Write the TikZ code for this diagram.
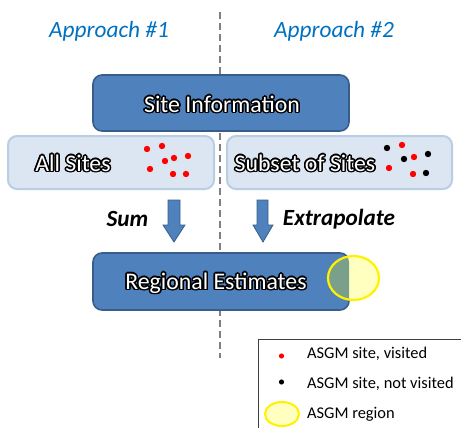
\documentclass[tikz,border=0pt]{standalone}
\usepackage{fontspec}
\setmainfont{Carlito}
\usepackage{contour}
\contourlength{1.5pt}
\definecolor{appblue}{RGB}{0,112,192}
\definecolor{boxblue}{RGB}{79,129,189}
\definecolor{boxedge}{RGB}{56,93,138}
\definecolor{lightfill}{RGB}{220,230,242}
\definecolor{lightedge}{RGB}{185,205,229}
\definecolor{overlapc}{RGB}{122,160,140}
\definecolor{ellfill}{RGB}{255,255,192}
\newcommand\glowtxt[1]{\contour{black}{\textcolor{white}{#1}}}
\begin{document}
\begin{tikzpicture}[x=1pt,y=-1pt,
  darkbox/.style={draw=boxedge,fill=boxblue,line width=1.6pt,rounded corners=9pt,inner sep=0pt},
  lightbox/.style={draw=lightedge,fill=lightfill,line width=2pt,rounded corners=9pt,inner sep=0pt},
  glowlbl/.style={font=\fontsize{23.8}{25}\selectfont,inner sep=0pt},
  apptxt/.style={font=\fontsize{23.3}{25}\selectfont\itshape,text=appblue,inner sep=0pt},
  optxt/.style={font=\fontsize{23.2}{25}\selectfont\bfseries\itshape,inner sep=0pt},
  legtxt/.style={font=\fontsize{16.4}{18}\selectfont,anchor=west,inner sep=0pt},
  reddot/.style={fill=red},
  blackdot/.style={fill=black},
  blockarrow/.style={fill=boxblue,draw=boxedge,line width=0.8pt},
  divider/.style={draw=gray,dashed,dash pattern=on 7pt off 4pt,line width=1.3pt}]
\useasboundingbox (0,0) rectangle (461,428);

% titles
\node[apptxt] (ap1) at (109,31) {Approach \#1};
\node[apptxt] (ap2) at (334,31) {Approach \#2};

% divider
\coordinate (dtop) at (220,12);
\coordinate (dbot) at (220,358);
\draw[divider] (dtop) -- (dbot);

% site information
\node[darkbox,minimum width=256pt,minimum height=56pt] (site) at (221,103) {};
\node[glowlbl] (sitet) at (222,105) {\glowtxt{Site Information}};

% all sites / subset
\node[lightbox,minimum width=206pt,minimum height=53pt] (all) at (111,162.5) {};
\node[glowlbl] (allt) at (73,164) {\glowtxt{All Sites}};
\node[lightbox,minimum width=225pt,minimum height=53pt] (sub) at (339.5,162.5) {};
\node[glowlbl] (subt) at (305,164) {\glowtxt{Subset of Sites}};

% dots in All Sites
\foreach \p in {(147,149),(162,146),(174,158),(188,156),(165,161),(150,169),(173,174),(186,174)}
  \fill[reddot] \p circle (3.2);
% dots in Subset
\foreach \p in {(402,145),(414,157),(389,168),(413,174)}
  \fill[reddot] \p circle (3.2);
\foreach \p in {(387,148),(428,154),(404,159),(426,173)}
  \fill[blackdot] \p circle (3.2);

% block arrows
\draw[blockarrow] (168,200) -- (180,200) -- (180,225) -- (185,225) -- (174,242) -- (163,225) -- (168,225) -- cycle;
\draw[blockarrow] (257,200) -- (268,200) -- (268,225) -- (273,225) -- (263,242) -- (253,225) -- (257,225) -- cycle;
\node[optxt] (sum) at (127.5,219) {Sum};
\node[optxt] (extra) at (339,219) {Extrapolate};

% regional estimates
\node[darkbox,minimum width=256pt,minimum height=57pt] (reg) at (221,281.5) {};
\node[glowlbl] (regt) at (216,284) {\glowtxt{Regional Estimates}};

% region ellipse
\fill[ellfill] (353.5,278) ellipse [x radius=25.5,y radius=22];
\begin{scope}
  \clip[rounded corners=9pt] (93,253) rectangle (349,310);
  \fill[overlapc] (353.5,278) ellipse [x radius=25.5,y radius=22];
\end{scope}
\draw[yellow,line width=2.2pt] (353.5,278) ellipse [x radius=25.5,y radius=22];

% legend
\draw[black!75,line width=1pt] (462,339) -- (258,339) -- (258,429);
\fill[reddot] (281.5,356) circle (2.6);
\fill[blackdot] (281.5,382) circle (2.6);
\fill[ellfill] (282,414) ellipse [x radius=17,y radius=12];
\draw[yellow,line width=2pt] (282,414) ellipse [x radius=17,y radius=12];
\node[legtxt] (l1) at (307,354) {ASGM site, visited};
\node[legtxt] (l2) at (307,384) {ASGM site, not visited};
\node[legtxt] (l3) at (307,414) {ASGM region};
\end{tikzpicture}
\end{document}
